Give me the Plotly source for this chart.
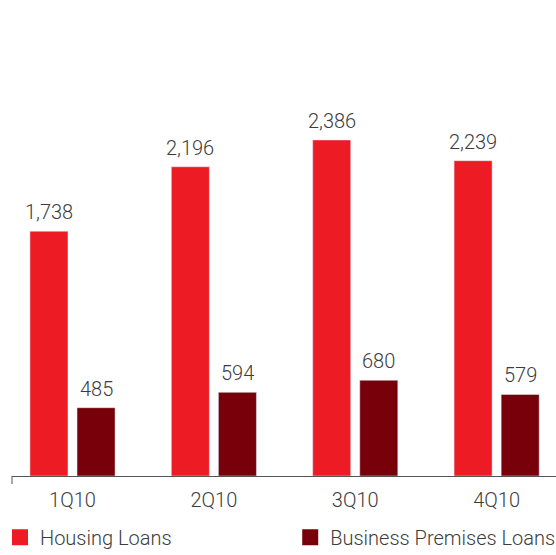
import plotly.graph_objects as go

categories = ["1Q10", "2Q10", "3Q10", "4Q10"]
housing = [1738, 2196, 2386, 2239]
business = [485, 594, 680, 579]
series_names = ["Housing Loans", "Business Premises Loans"]

RED = "#ED1C24"
DARK = "#77000A"
TXT = "#3c3c3c"
FONT = "Roboto"
FS = 20

fig = go.Figure()
fig.add_trace(go.Bar(x=categories, y=housing, name=series_names[0], marker_color=RED,
                     width=0.269, offset=-0.301, showlegend=False, hoverinfo="x+y"))
fig.add_trace(go.Bar(x=categories, y=business, name=series_names[1], marker_color=DARK,
                     width=0.269, offset=0.032, showlegend=False, hoverinfo="x+y"))

# legend entries with larger square symbols
for nm, col, lg in zip(series_names, [RED, DARK], ["legend", "legend2"]):
    fig.add_trace(go.Scatter(x=[None], y=[None], mode="markers", name=nm, legend=lg,
                             marker=dict(symbol="square", size=16, color=col)))

annotations = []
for i, c in enumerate(categories):
    annotations.append(dict(x=i - 0.301 + 0.1345, y=housing[i], xref="x", yref="y",
                            text=f"{housing[i]:,}", showarrow=False, yanchor="bottom",
                            yshift=5, font=dict(size=FS, color=TXT, family=FONT, weight=300)))
    annotations.append(dict(x=i + 0.032 + 0.1345, y=business[i], xref="x", yref="y",
                            text=f"{business[i]:,}", showarrow=False, yanchor="bottom",
                            yshift=5, font=dict(size=FS, color=TXT, family=FONT, weight=300)))

legend_common = dict(orientation="h", xanchor="left", y=0.032, yanchor="middle",
                     xref="container", yref="container", itemsizing="trace",
                     font=dict(size=FS, color=TXT, family=FONT, weight=300),
                     bgcolor="rgba(0,0,0,0)", itemclick=False, itemdoubleclick=False)

fig.update_layout(
    width=556, height=555,
    margin=dict(l=12, r=0, t=0, b=79, autoexpand=False),
    paper_bgcolor="white", plot_bgcolor="white",
    barmode="overlay",
    font=dict(family=FONT, size=FS, color=TXT, weight=300),
    xaxis=dict(type="category", range=[-0.428, 3.42], showgrid=False, zeroline=False,
               showline=True, linecolor="#555555", linewidth=1, ticks="",
               tickfont=dict(size=FS, color=TXT, family=FONT, weight=300), ticklabelstandoff=6),
    yaxis=dict(range=[0, 3380], visible=False, showgrid=False, zeroline=False),
    showlegend=True,
    legend=dict(x=-0.002, **legend_common),
    legend2=dict(x=0.522, **legend_common),
    annotations=annotations,
    shapes=[dict(type="line", xref="paper", yref="paper", x0=0, x1=0, y0=-8, y1=0,
                 ysizemode="pixel", yanchor=0, line=dict(color="#555555", width=1))],
)

fig.write_html("out.html", config={"displayModeBar": False},
               post_script="document.body.style.margin='0';document.body.style.overflow='hidden';")
